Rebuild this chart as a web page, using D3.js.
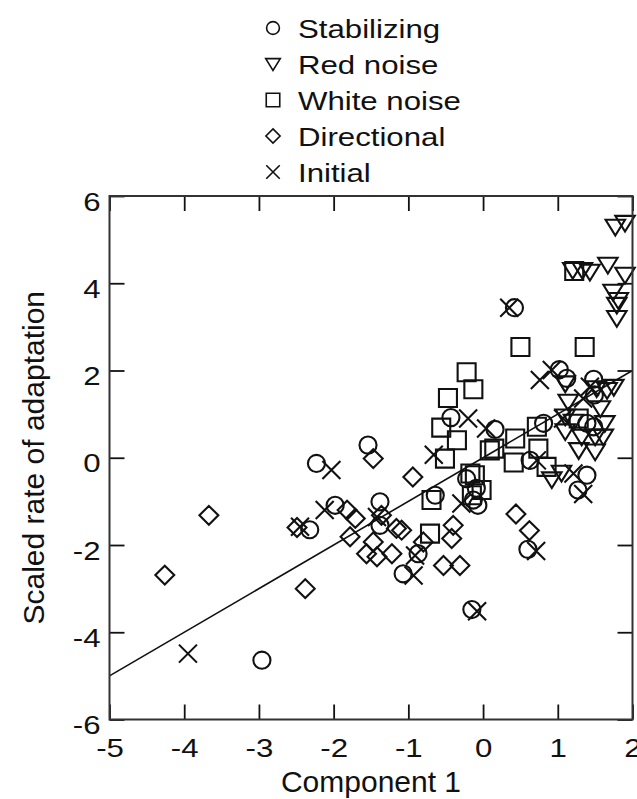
<!DOCTYPE html>
<html>
<head>
<meta charset="utf-8">
<script src="https://cdn.jsdelivr.net/npm/d3@7"></script>
<style>
  body { margin: 0; background: #fff; }
  text { font-family: "Liberation Sans", Arial, sans-serif; fill: #111; }
</style>
</head>
<body>
<div id="chart"></div>
<script>
// data: [component 1, scaled rate]
var stabilizing = [
  [0.42, 3.44], [-2.96, -4.64], [-2.23, -0.13], [-1.98, -1.09], [-2.32, -1.65],
  [-1.54, 0.29], [-1.38, -1.01], [-1.38, -1.55], [-1.07, -2.66], [-0.87, -2.20],
  [-0.64, -0.86], [-0.43, 0.92], [0.16, 0.65], [-0.22, -0.48], [-0.09, -0.70],
  [-0.13, -0.97], [-0.07, -1.09], [-0.15, -3.48], [0.60, -2.10], [0.63, -0.06],
  [0.81, 0.79], [1.02, 2.02], [1.12, 1.82], [1.48, 1.80], [1.49, 1.44],
  [1.39, 0.79], [1.48, 0.71], [1.39, -0.40], [1.27, -0.74]
];
var redNoise = [
  [1.77, 5.29], [1.90, 5.38], [1.20, 4.30], [1.33, 4.30], [1.43, 4.26],
  [1.67, 4.42], [1.90, 4.19], [1.74, 3.80], [1.81, 3.61], [1.79, 3.50],
  [1.79, 3.20], [1.10, 1.70], [1.52, 1.59], [1.66, 1.55], [1.75, 1.62],
  [1.14, 1.28], [1.57, 1.13], [1.10, 0.94], [1.21, 0.82], [1.63, 0.79],
  [1.10, 0.60], [1.32, 0.48], [1.50, 0.48], [1.61, 0.48], [1.28, 0.17],
  [1.50, 0.14], [1.05, -0.35], [0.92, -0.50]
];
var whiteNoise = [
  [1.22, 4.28], [0.50, 2.54], [1.36, 2.54], [-0.22, 1.96], [-0.13, 1.57],
  [-0.47, 1.37], [-0.56, 0.69], [-0.35, 0.40], [-0.51, -0.02], [0.09, 0.17],
  [0.15, 0.21], [0.43, 0.44], [0.41, -0.11], [0.74, 0.21], [0.85, -0.21],
  [0.72, 0.71], [1.28, 0.90], [-0.17, -0.36], [-0.11, -0.40], [-0.02, -0.74],
  [-0.15, -0.86], [-0.69, -0.97], [-0.71, -1.74]
];
var directional = [
  [-4.26, -2.69], [-3.67, -1.32], [-2.49, -1.60], [-2.38, -3.00], [-1.47, -0.02],
  [-1.82, -1.20], [-1.71, -1.39], [-1.78, -1.81], [-1.36, -1.32], [-1.16, -1.62],
  [-1.09, -1.66], [-1.47, -1.93], [-1.56, -2.20], [-1.42, -2.27], [-1.22, -2.20],
  [-0.94, -0.44], [-0.80, -1.93], [-0.40, -1.55], [-0.42, -1.85], [-0.53, -2.47],
  [-0.31, -2.47], [0.44, -1.29], [0.62, -1.67]
];
var initial = [
  [-3.95, -4.49], [-2.45, -1.58], [-2.03, -0.28], [-2.12, -1.20], [-1.42, -1.36],
  [-0.93, -2.70], [-0.91, -2.24], [-0.66, 0.07], [-0.20, 0.90], [0.04, 0.67],
  [-0.29, -1.05], [-0.08, -3.52], [0.35, 3.44], [0.71, -2.14], [0.72, -0.06],
  [0.76, 1.78], [0.92, 2.01], [1.07, 0.90], [1.43, 1.63], [1.34, 1.36],
  [1.21, -0.36], [1.34, -0.83]
];
var fitLine = [[-5, -5], [2, 2]];

var seriesNames = ['Stabilizing', 'Red noise', 'White noise', 'Directional', 'Initial'];
var seriesShapes = ['circle', 'triangle', 'square', 'diamond', 'cross'];
var seriesData = [stabilizing, redNoise, whiteNoise, directional, initial];

var xTicks = [-5, -4, -3, -2, -1, 0, 1, 2];
var yTicks = [-6, -4, -2, 0, 2, 4, 6];

var width = 637, height = 799;
var margin = { top: 196, right: 4.5, bottom: 79.5, left: 109.5 };
var innerW = width - margin.left - margin.right;
var innerH = height - margin.top - margin.bottom;

var svg = d3.select('#chart')
  .append('svg')
    .attr('width', width)
    .attr('height', height);

var x = d3.scaleLinear().domain([-5, 2]).range([0, innerW]);
var y = d3.scaleLinear().domain([-6, 6]).range([innerH, 0]);

// marker outlines, centred on 0,0
function circlePath(r) {
  var p = d3.path();
  p.arc(0, 0, r, 0, 2 * Math.PI);
  p.closePath();
  return p.toString();
}
function shapePath(kind, s) {
  var h = s / 2;
  if (kind === 'circle') return circlePath(h * 0.95);
  if (kind === 'square') return 'M' + -h + ',' + -h + 'H' + h + 'V' + h + 'H' + -h + 'Z';
  if (kind === 'diamond') return 'M0,' + -h * 1.05 + 'L' + h * 1.05 + ',0L0,' + h * 1.05 + 'L' + -h * 1.05 + ',0Z';
  if (kind === 'triangle') return 'M' + -h * 1.08 + ',' + -h * 0.8 + 'H' + h * 1.08 + 'L0,' + h * 0.95 + 'Z';
  if (kind === 'cross') return 'M' + -h + ',' + -h + 'L' + h + ',' + h + 'M' + h + ',' + -h + 'L' + -h + ',' + h;
}

var g = svg.append('g')
  .attr('transform', 'translate(' + margin.left + ',' + margin.top + ')');

g.append('defs').append('clipPath').attr('id', 'clip')
  .append('rect').attr('width', innerW).attr('height', innerH);

// fitted line
g.append('path')
  .datum(fitLine)
  .attr('clip-path', 'url(#clip)')
  .attr('fill', 'none')
  .attr('stroke', '#111')
  .attr('stroke-width', 1.6)
  .attr('d', d3.line().x(function(d) { return x(d[0]); }).y(function(d) { return y(d[1]); }));

// points
seriesData.forEach(function(data, i) {
  g.append('g')
    .attr('class', 'series')
    .selectAll('path')
    .data(data)
      .enter()
        .append('path')
          .attr('transform', function(d) { return 'translate(' + x(d[0]) + ',' + y(d[1]) + ')'; })
          .attr('d', shapePath(seriesShapes[i], 18))
          .attr('fill', 'none')
          .attr('stroke', '#111')
          .attr('stroke-width', 2.1);
});

// axes: ticks point inward on all four sides
var plain = function(d) { return String(d); };
function axisStyle(sel) {
  sel.select('.domain').remove();
  sel.selectAll('.tick line').attr('stroke', '#111').attr('stroke-width', 1.8);
}
var axBottom = g.append('g')
  .attr('transform', 'translate(0,' + innerH + ')')
  .call(d3.axisBottom(x).tickValues(xTicks).tickSize(-15).tickFormat(plain));
var axLeft = g.append('g')
  .call(d3.axisLeft(y).tickValues(yTicks).tickSize(-15).tickFormat(plain));
var axTop = g.append('g')
  .call(d3.axisTop(x).tickValues(xTicks).tickSize(-15).tickFormat(''));
var axRight = g.append('g')
  .attr('transform', 'translate(' + innerW + ',0)')
  .call(d3.axisRight(y).tickValues(yTicks).tickSize(-15).tickFormat(''));
[axBottom, axLeft, axTop, axRight].forEach(axisStyle);

// tick labels are drawn wide in the original
axBottom.selectAll('.tick text')
  .attr('font-size', 26).attr('fill', '#111')
  .attr('y', 0).attr('dy', 0)
  .attr('transform', 'translate(0,37) scale(1.2,1)');
axLeft.selectAll('.tick text')
  .attr('font-size', 26).attr('fill', '#111')
  .attr('x', 0).attr('dy', 0)
  .attr('transform', 'translate(-9,14) scale(1.2,1)');

// frame
g.append('rect')
  .attr('width', innerW)
  .attr('height', innerH)
  .attr('fill', 'none')
  .attr('stroke', '#333')
  .attr('stroke-width', 2);

// axis titles
svg.append('text')
  .attr('x', margin.left + innerW / 2)
  .attr('y', 792)
  .attr('text-anchor', 'middle')
  .attr('font-size', 30)
  .text('Component 1');

svg.append('text')
  .attr('transform', 'translate(44,' + (margin.top + innerH / 2) + ') rotate(-90)')
  .attr('text-anchor', 'middle')
  .attr('font-size', 30)
  .text('Scaled rate of adaptation');

// legend
var legend = svg.append('g')
  .attr('class', 'legend')
  .selectAll('g')
  .data(seriesNames)
    .enter()
      .append('g')
        .attr('transform', function(d, i) { return 'translate(273,' + (28 + 36 * i) + ')'; });

legend.append('path')
  .attr('d', function(d, i) { return shapePath(seriesShapes[i], 13.5); })
  .attr('fill', 'none')
  .attr('stroke', '#111')
  .attr('stroke-width', 1.6);

legend.append('text')
  .attr('font-size', 26)
  .attr('transform', 'translate(25,9.5) scale(1.2,1)')
  .text(function(d) { return d; });
</script>
</body>
</html>
